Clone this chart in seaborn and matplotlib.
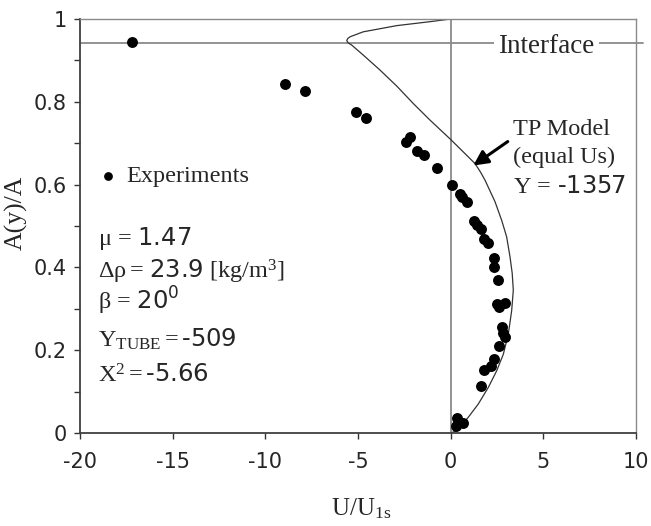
import matplotlib
matplotlib.use("Agg")
import matplotlib.pyplot as plt
import seaborn as sns
import pandas as pd

# ---- data ----
exp_x = [-17.17, -8.96, -7.88, -5.13, -4.57, -2.39, -2.21, -1.80, -1.46, -0.74,
         0.05, 0.50, 0.61, 0.90, 1.24, 1.40, 1.62, 1.80, 2.03, 2.34, 2.34, 2.57,
         2.52, 2.93, 2.59, 2.75, 2.81, 2.93, 2.59, 2.36, 2.18, 1.80, 1.62, 0.34,
         0.68, 0.27]
exp_y = [0.945, 0.842, 0.826, 0.776, 0.760, 0.704, 0.714, 0.682, 0.672, 0.640,
         0.599, 0.577, 0.569, 0.559, 0.511, 0.503, 0.492, 0.469, 0.460, 0.422,
         0.402, 0.370, 0.312, 0.314, 0.304, 0.257, 0.241, 0.233, 0.209, 0.179,
         0.161, 0.153, 0.113, 0.036, 0.024, 0.018]

model_x = [0, 0.35, 0.95, 1.49, 2.03, 2.48, 2.84, 3.11, 3.29, 3.38, 3.32, 3.20,
           3.02, 2.75, 2.39, 1.85, 1.60, 1.31, 0.86, 0, -1.12, -2.02, -2.91,
           -3.82, -4.72, -5.34, -5.52, -5.61, -5.55, -5.43, -4.72, -2.91,
           -1.12, 0]
model_y = [0, 0.006, 0.038, 0.070, 0.110, 0.150, 0.190, 0.239, 0.295, 0.345,
           0.386, 0.426, 0.474, 0.514, 0.559, 0.611, 0.631, 0.651, 0.671, 0.709,
           0.756, 0.796, 0.838, 0.877, 0.913, 0.937, 0.942, 0.948, 0.953, 0.957,
           0.969, 0.984, 0.9935, 1.0]

interface_y = 0.942
x_ticks = [-20, -15, -10, -5, 0, 5, 10]
x_ticklabels = ["-20", "-15", "-10", "-5", "0", "5", "10"]
y_ticks = [0, 0.2, 0.4, 0.6, 0.8, 1.0]
y_ticklabels = ["0", "0.2", "0.4", "0.6", "0.8", "1"]

params = [
    r"$\mathrm{μ}\,=\,\mathsf{1.47}$",
    r"$\mathrm{Δρ}=\,\mathsf{23.9}\ \mathrm{[kg/m^{3}]}$",
    r"$\mathrm{β}\,=\,\mathsf{20^{0}}$",
    r"$\mathrm{Y_{TUBE}}=\mathsf{‐509}$",
    r"$\mathrm{X^{2}}=\mathsf{‐5.66}$",
]
model_label = ["TP Model", "(equal Us)", r"$\mathrm{Y}\,=\,\mathsf{‐1357}$"]

# ---- style ----
sns.set_style("ticks")
plt.rcParams["font.family"] = ["Liberation Serif", "DejaVu Sans"]
plt.rcParams["mathtext.fontset"] = "custom"
plt.rcParams["mathtext.rm"] = "Liberation Serif"
plt.rcParams["mathtext.it"] = "Liberation Serif:italic"
plt.rcParams["mathtext.sf"] = "DejaVu Sans"
plt.rcParams["axes.unicode_minus"] = False

fig = plt.figure(figsize=(6.51, 5.26), dpi=100)
ax = fig.add_axes([80 / 651, 93 / 526, 556 / 651, 414 / 526])

df_exp = pd.DataFrame({"U": exp_x, "A": exp_y})
df_mod = pd.DataFrame({"U": model_x, "A": model_y})

gray = "#8a8a8a"
ax.axvline(0, color=gray, lw=1.3, zorder=1)
ax.plot([-20, 10.38], [interface_y, interface_y], color=gray, lw=1.3,
        clip_on=False, zorder=1)

sns.lineplot(data=df_mod, x="U", y="A", sort=False, estimator=None,
             color="#333333", lw=0.9, ax=ax, zorder=2,
             solid_joinstyle="round")
sns.scatterplot(data=df_exp, x="U", y="A", color="black", s=62,
                edgecolor="black", linewidth=0, ax=ax, zorder=3,
                label="Experiments")

ax.set_xlim(-20, 10)
ax.set_ylim(0, 1)
ax.set_xticks(x_ticks)
ax.set_xticklabels(x_ticklabels, fontfamily="DejaVu Sans", fontsize=15)
ax.set_yticks(y_ticks)
ax.set_yticklabels(y_ticklabels, fontfamily="DejaVu Sans", fontsize=15)
ax.set_yticks([0.1, 0.3, 0.5, 0.7, 0.9], minor=True)
ax.tick_params(axis="both", which="both", direction="out", length=4.5,
               width=1, color="#333333")
ax.tick_params(axis="x", pad=9)
ax.tick_params(axis="y", pad=5)

for side in ["left", "bottom"]:
    ax.spines[side].set_color("#404040")
    ax.spines[side].set_linewidth(1.3)
for side in ["top", "right"]:
    ax.spines[side].set_visible(True)
    ax.spines[side].set_color(gray)
    ax.spines[side].set_linewidth(1.0)

ax.set_xlabel(r"U/U$_{\mathrm{1s}}$", fontsize=18)
ax.set_ylabel("A(y)/A", fontsize=18.5)
ax.xaxis.set_label_coords(0.505, -0.152)
ax.yaxis.set_label_coords(-0.094, 0.531)

# legend
leg = ax.legend(loc="center left", bbox_to_anchor=(0.035, 0.621), frameon=False,
                fontsize=17.5, handlelength=0.7, handletextpad=0.4,
                borderpad=0, borderaxespad=0, markerscale=0.8)

# interface text
ax.text(5.17, 0.917, "Interface", fontsize=19.5, ha="center", va="baseline",
        bbox=dict(facecolor="white", edgecolor="none", pad=3), zorder=4)

# model annotation
for txt, yy in zip(model_label, [0.720, 0.652, 0.580]):
    ax.text(3.36, yy, txt, fontsize=17.5, ha="left", va="baseline")
ax.annotate("", xy=(1.22, 0.646), xytext=(3.08, 0.704),
            arrowprops=dict(arrowstyle="-|>", color="black", lw=2.2,
                            mutation_scale=22, shrinkA=0, shrinkB=0))

# parameter block
for txt, yy in zip(params, [0.454, 0.374, 0.297, 0.208, 0.121]):
    ax.text(-19.03, yy, txt, fontsize=17.5, ha="left", va="baseline")

fig.savefig("out.png", dpi=100)
